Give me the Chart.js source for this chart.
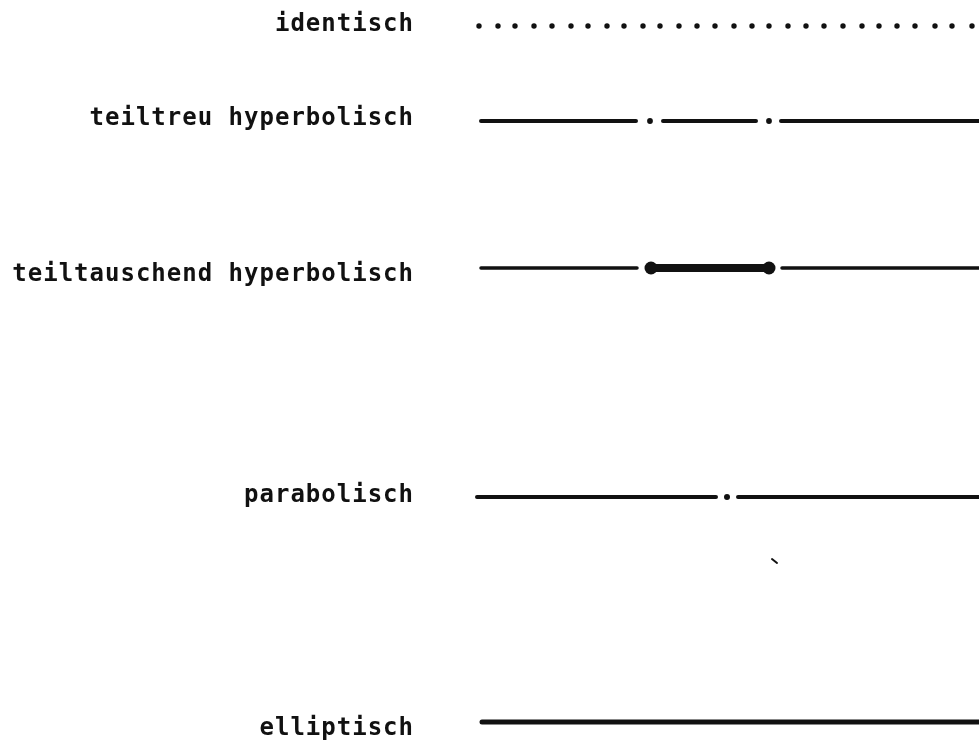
<!DOCTYPE html>
<html lang="de">
<head>
<meta charset="utf-8">
<title>Abbildungstypen</title>
<script src="https://cdn.jsdelivr.net/npm/chart.js@4/dist/chart.umd.min.js"></script>
<style>
  html, body { margin: 0; padding: 0; background: #fff; }
  #wrap { width: 979px; height: 740px; position: relative; }
</style>
</head>
<body>
<div id="wrap"><canvas id="chartTypen"></canvas></div>
<script>
// ============================================================
// DATEN
// ============================================================

/** Beschriftungen der Zeilen */
const labels = [
  'identisch',
  'teiltreu hyperbolisch',
  'teiltauschend hyperbolisch',
  'parabolisch',
  'elliptisch',
];

/** Höhe jeder Linie (y-Wert) */
const rowLevels = [26, 121, 268, 497, 722];

/** Höhe der Beschriftung (weicht leicht von der Linie ab) */
const labelLevels = [25, 119, 275, 496, 729];

// identisch: nur Punkte
const identischX = [479, 498, 515, 534, 552, 571, 588, 607, 624, 643, 660, 679, 697, 715,
  734, 752, 769, 788, 806, 824, 843, 862, 879, 897, 915, 935, 952, 972];

// teiltreu hyperbolisch: Striche mit zwei Punkten
const teiltreuSegments = [[481, 636], [663, 756], [781, 990]];
const teiltreuDots = [650, 769];

// teiltauschend hyperbolisch: dünne Striche, dicker Balken mit Knöpfen
const tauschendThin = [[481, 637], [782, 990]];
const tauschendThick = [[651, 769]];
const tauschendKnobs = [651, 769];

// parabolisch: ein Punkt in der Lücke
const paraboSegments = [[477, 716], [738, 990]];
const paraboDots = [727];

// elliptisch: durchgehend
const ellipSegments = [[482, 990]];

// kleiner Fleck unter parabolisch
const fleck = [[772, 559], [777, 563]];

// ============================================================
// HELFER
// ============================================================

/** Strecken -> Punktliste mit Lücken (y: null) */
function segmentsToData(segments, y) {
  const out = [];
  segments.forEach(([a, b]) => {
    out.push({ x: a, y }, { x: b, y }, { x: b, y: null });
  });
  return out;
}

function dotsToData(xs, y) {
  return xs.map(x => ({ x, y }));
}

const INK = '#111111';

function lineSet(data, width) {
  return {
    data,
    borderColor: INK,
    borderWidth: width,
    borderCapStyle: 'round',
    pointRadius: 0,
    spanGaps: false,
    fill: false,
  };
}

function dotSet(data, radius) {
  return {
    data,
    showLine: false,
    pointRadius: radius,
    pointBorderWidth: 0,
    pointBackgroundColor: INK,
    pointHoverRadius: radius,
  };
}

// Buchstabenabstand wie in der Vorlage (Schreibmaschinen-Schrift)
const spacingPlugin = {
  id: 'letterSpacing',
  beforeLayout(chart) { chart.ctx.letterSpacing = '1px'; },
  beforeDraw(chart) { chart.ctx.letterSpacing = '1px'; },
};

// ============================================================
// DIAGRAMM
// ============================================================

const canvas = document.getElementById('chartTypen');

new Chart(canvas, {
  type: 'line',
  data: {
    datasets: [
      dotSet(dotsToData(identischX, rowLevels[0]), 2.7),
      lineSet(segmentsToData(teiltreuSegments, rowLevels[1]), 4),
      dotSet(dotsToData(teiltreuDots, rowLevels[1]), 2.9),
      lineSet(segmentsToData(tauschendThin, rowLevels[2]), 3.5),
      lineSet(segmentsToData(tauschendThick, rowLevels[2]), 8),
      dotSet(dotsToData(tauschendKnobs, rowLevels[2]), 6.5),
      lineSet(segmentsToData(paraboSegments, rowLevels[3]), 4),
      dotSet(dotsToData(paraboDots, rowLevels[3]), 3),
      lineSet(segmentsToData(ellipSegments, rowLevels[4]), 5),
      lineSet(fleck.map(([x, y]) => ({ x, y })), 2),
    ],
  },
  options: {
    responsive: true,
    maintainAspectRatio: false,
    animation: false,
    layout: { padding: 0, autoPadding: false },
    plugins: {
      legend: { display: false },
      tooltip: { enabled: false },
    },
    scales: {
      x: {
        type: 'linear',
        min: 430,
        max: 979,
        display: false,
      },
      y: {
        type: 'linear',
        min: 0,
        max: 740,
        reverse: true,
        grid: { display: false, drawTicks: false },
        border: { display: false },
        afterFit(scale) {
          scale.width = 430;
          scale.paddingTop = 0;
          scale.paddingBottom = 0;
        },
        afterBuildTicks(scale) {
          scale.ticks = labelLevels.map(v => ({ value: v }));
        },
        ticks: {
          autoSkip: false,
          padding: 16,
          color: INK,
          font: { family: "'DejaVu Sans Mono', monospace", size: 24, weight: 'bold' },
          callback(value) {
            const i = labelLevels.indexOf(value);
            return i >= 0 ? labels[i] : '';
          },
        },
      },
    },
  },
  plugins: [spacingPlugin],
});
</script>
</body>
</html>
